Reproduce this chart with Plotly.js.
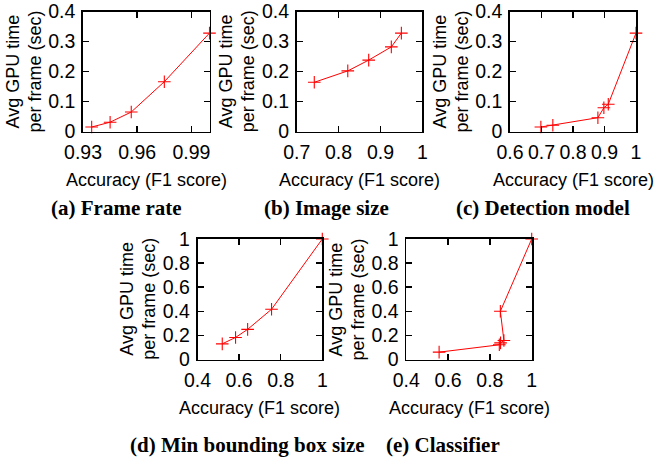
<!DOCTYPE html>
<html>
<head>
<meta charset="utf-8">
<script src="https://cdn.plot.ly/plotly-3.0.1.min.js"></script>
<style>html,body{margin:0;padding:0;background:#fff;}#chart{width:657px;height:458px;}</style>
</head>
<body>
<div id="chart"></div>
<script>
// Data
const aX = [0.9348, 0.945, 0.9567, 0.975, 1.0];
const aY = [0.015, 0.031, 0.065, 0.166, 0.328];
const bX = [0.742, 0.822, 0.872, 0.926, 0.950];
const bY = [0.164, 0.202, 0.238, 0.282, 0.328];
const cX = [0.698, 0.736, 0.879, 0.898, 0.912, 1.0];
const cY = [0.015, 0.021, 0.046, 0.079, 0.091, 0.328];
const dX = [0.519, 0.583, 0.641, 0.756, 1.0];
const dY = [0.13, 0.183, 0.25, 0.417, 1.0];
const eX = [0.557, 0.845, 0.851, 0.867, 0.85, 1.0];
const eY = [0.061, 0.122, 0.138, 0.158, 0.40, 1.0];

const aTicks = [0.93, 0.96, 0.99];
const bTicks = [0.7, 0.8, 0.9, 1];
const cTicks = [0.6, 0.7, 0.8, 0.9, 1];
const deTicks = [0.4, 0.6, 0.8, 1];
const yTicksTop = [0, 0.1, 0.2, 0.3, 0.4];
const yTicksBot = [0, 0.2, 0.4, 0.6, 0.8, 1];

const captions = ['(a) Frame rate', '(b) Image size', '(c) Detection model', '(d) Min bounding box size', '(e) Classifier'];
const xTitle = 'Accuracy (F1 score)';
const yTitle1 = 'Avg GPU time';
const yTitle2 = 'per frame (sec)';

const W = 657, H = 458;
// pixel boxes [left, right, top, bottom]
const boxes = [
  [83, 209.5, 11.5, 131.5],
  [296.7, 422.3, 11.5, 131.5],
  [510, 636, 11.5, 131.5],
  [197.5, 322.3, 239, 359.5],
  [406.3, 531.7, 239, 359.5]
];
const capPos = [[116, 208], [326, 208], [543, 208], [247, 445], [443, 445]];

const series = [[aX, aY], [bX, bY], [cX, cY], [dX, dY], [eX, eY]];
const xt = [aTicks, bTicks, cTicks, deTicks, deTicks];
const xr = [[0.93, 1.0], [0.7, 1.0], [0.6, 1.0], [0.4, 1.0], [0.4, 1.0]];
const yt = [yTicksTop, yTicksTop, yTicksTop, yTicksBot, yTicksBot];
const yr = [[0, 0.4], [0, 0.4], [0, 0.4], [0, 1], [0, 1]];

const tickFont = {family: 'Liberation Sans, Arial, sans-serif', size: 19.5, color: '#000'};
const titleFont = {family: 'Liberation Sans, Arial, sans-serif', size: 18, color: '#000'};
const capFont = {family: 'Liberation Serif, Times New Roman, serif', size: 21, color: '#000'};

const data = [];
const layout = {
  width: W, height: H,
  margin: {l: 0, r: 0, t: 0, b: 0},
  paper_bgcolor: '#fff', plot_bgcolor: '#fff',
  showlegend: false,
  annotations: []
};

function px(x) { return x / W; }
function py(y) { return 1 - y / H; }

for (let i = 0; i < 5; i++) {
  const n = i === 0 ? '' : String(i + 1);
  const b = boxes[i];
  data.push({
    x: series[i][0], y: series[i][1],
    xaxis: 'x' + n, yaxis: 'y' + n,
    type: 'scatter', mode: 'lines+markers',
    line: {color: '#ff0000', width: 1},
    marker: {symbol: 'cross-thin-open', size: 9, color: '#ff0000', line: {color: '#ff0000', width: 1.1}},
    cliponaxis: false
  });
  const axCommon = {
    showgrid: false, zeroline: false,
    showline: true, linecolor: '#000', linewidth: 1.8, mirror: 'ticks',
    ticks: 'inside', ticklen: 6, tickwidth: 1.5, tickcolor: '#000',
    tickfont: tickFont, fixedrange: true
  };
  layout['xaxis' + n] = Object.assign({}, axCommon, {
    domain: [px(b[0]), px(b[1])],
    anchor: 'y' + n,
    range: xr[i], tickmode: 'array', tickvals: xt[i], ticktext: xt[i].map(v => String(v)),
    ticklabelstandoff: 2
  });
  layout['yaxis' + n] = Object.assign({}, axCommon, {
    domain: [py(b[3]), py(b[2])],
    anchor: 'x' + n,
    range: yr[i], tickmode: 'array', tickvals: yt[i], ticktext: yt[i].map(v => String(v)),
    ticklabelstandoff: 2
  });
  const cx = (b[0] + b[1]) / 2;
  const cy = (b[2] + b[3]) / 2;
  layout.annotations.push({
    xref: 'paper', yref: 'paper', x: px(cx), y: py(b[3] + 48.5),
    xanchor: 'center', yanchor: 'middle', showarrow: false,
    text: xTitle, font: titleFont
  });
  layout.annotations.push({
    xref: 'paper', yref: 'paper', x: px(b[0] - 70), y: py(cy),
    xanchor: 'center', yanchor: 'middle', showarrow: false, textangle: -90,
    text: yTitle1, font: titleFont
  });
  layout.annotations.push({
    xref: 'paper', yref: 'paper', x: px(b[0] - 48), y: py(cy),
    xanchor: 'center', yanchor: 'middle', showarrow: false, textangle: -90,
    text: yTitle2, font: titleFont
  });
  layout.annotations.push({
    xref: 'paper', yref: 'paper', x: px(capPos[i][0]), y: py(capPos[i][1]),
    xanchor: 'center', yanchor: 'middle', showarrow: false,
    text: '<b>' + captions[i] + '</b>', font: capFont
  });
}

Plotly.newPlot('chart', data, layout, {staticPlot: true, displayModeBar: false});
</script>
</body>
</html>
